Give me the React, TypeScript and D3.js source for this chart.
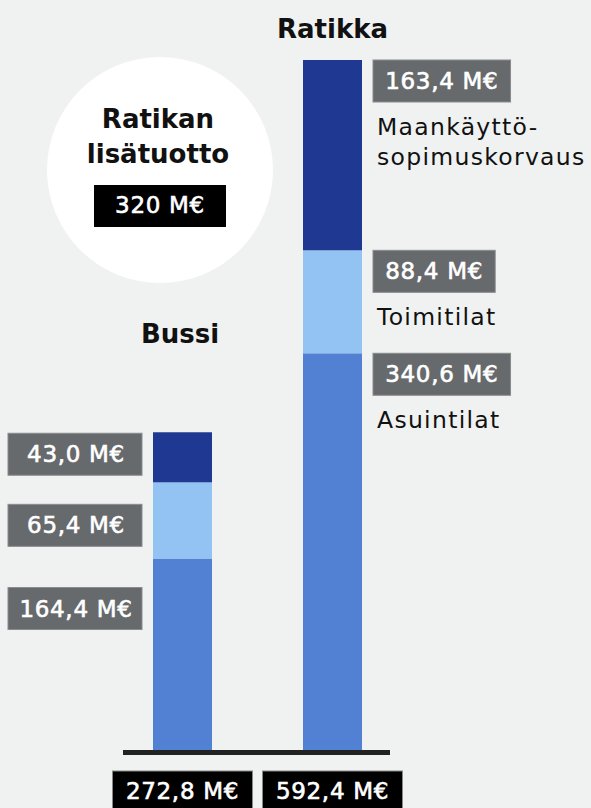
import React from "react";
import * as d3 from "d3";

const categories = ["Bussi", "Ratikka"];
const segmentKeys = ["Asuintilat", "Toimitilat", "Maankäyttösopimuskorvaus"];
const bussiValues = [164.4, 65.4, 43.0];
const ratikkaValues = [340.6, 88.4, 163.4];
const bussiLabels = ["164,4 M€", "65,4 M€", "43,0 M€"];
const ratikkaLabels = ["340,6 M€", "88,4 M€", "163,4 M€"];
const totalLabels = ["272,8 M€", "592,4 M€"];
const segmentNames = [["Asuintilat"], ["Toimitilat"], ["Maankäyttö-", "sopimuskorvaus"]];
const extraTitle = ["Ratikan", "lisätuotto"];
const extraValue = "320 M€";

const W = 591;
const H = 808;
const FONT = "'DejaVu Sans', Inter, sans-serif";
const COLORS = ["#5281d3", "#93c3f3", "#1f3891"];
const BG = "#f0f1f1";
const GRAY = "#676a6d";
const LABEL_SIZE = 23;
const LABEL_SPACING = 0.7;

let ctx: CanvasRenderingContext2D | null = null;
function measure(text: string, size: number, weight: number, spacing: number) {
  if (!ctx) ctx = document.createElement("canvas").getContext("2d");
  if (!ctx) return text.length * size * 0.6;
  ctx.font = `${weight} ${size}px 'DejaVu Sans', Inter, sans-serif`;
  return ctx.measureText(text).width + spacing * (text.length - 1);
}

export default function App() {
  const rows = categories.map((c, i) => {
    const vals = i === 0 ? bussiValues : ratikkaValues;
    const r: any = { cat: c };
    segmentKeys.forEach((k, j) => (r[k] = vals[j]));
    return r;
  });
  const series = d3.stack().keys(segmentKeys)(rows);
  const y = d3.scaleLinear().domain([0, 592.4]).range([750, 60]);
  const x = d3.scalePoint().domain(categories).range([182.5, 332.5]);
  const barW = 59;
  const titleY = [343, 38];
  const bussiOffsets = [29, 22, 1];
  const labelText = {
    fontFamily: FONT,
    fontWeight: 400,
    fontSize: LABEL_SIZE,
    letterSpacing: LABEL_SPACING,
    fill: "#fff",
    stroke: "#fff",
    strokeWidth: 0.6,
  } as any;

  return (
    <svg width={W} height={H} style={{ position: "absolute", left: 0, top: 0, background: BG }}>
      <rect x={0} y={0} width={W} height={H} fill={BG} />
      {/* circle */}
      <circle cx={160} cy={170} r={113} fill="#ffffff" />
      {extraTitle.map((t, i) => (
        <text key={t} x={158} y={128 + i * 35} textAnchor="middle" fontFamily={FONT} fontWeight={700} fontSize={26} fill="#111">
          {t}
        </text>
      ))}
      <rect x={94} y={185} width={132} height={42} fill="#000" />
      <text x={160} y={213} textAnchor="middle" {...labelText}>
        {extraValue}
      </text>

      {/* titles */}
      {categories.map((c, i) => (
        <text key={c} x={(x(c) as number) - (i === 0 ? 2.5 : 0)} y={titleY[i]} textAnchor="middle" fontFamily={FONT} fontWeight={700} fontSize={26} fill="#111">
          {c}
        </text>
      ))}

      {/* bars */}
      {series.map((s, si) =>
        s.map((d: any) => (
          <rect
            key={si + d.data.cat}
            x={(x(d.data.cat) as number) - barW / 2}
            y={y(d[1])}
            width={barW}
            height={y(d[0]) - y(d[1])}
            fill={COLORS[si]}
          />
        ))
      )}

      {/* baseline */}
      <rect x={123} y={750} width={267} height={5} fill="#222" />

      {/* Bussi labels */}
      {series.map((s, si) => {
        const d: any = s[0];
        const top = y(d[1]) + bussiOffsets[si];
        return (
          <g key={"b" + si}>
            <rect x={8} y={top} width={134} height={42} fill={GRAY} stroke="#8a8c8e" strokeWidth={1} />
            <text x={76} y={top + 29} textAnchor="middle" {...labelText}>
              {bussiLabels[si]}
            </text>
          </g>
        );
      })}

      {/* Ratikka labels */}
      {series.map((s, si) => {
        const d: any = s[1];
        const top = y(d[1]);
        const tw = measure(ratikkaLabels[si], LABEL_SIZE, 400, LABEL_SPACING);
        const bw = tw + 25;
        return (
          <g key={"r" + si}>
            <rect x={373} y={top} width={bw} height={42} fill={GRAY} stroke="#8a8c8e" strokeWidth={1} />
            <text x={373 + bw / 2} y={top + 29} textAnchor="middle" {...labelText}>
              {ratikkaLabels[si]}
            </text>
            {segmentNames[si].map((line, li) => (
              <text key={line} x={377} y={top + 42 + 33 + li * 30} fontFamily={FONT} fontWeight={400} fontSize={23.5} letterSpacing={1.3} fill="#111">
                {line}
              </text>
            ))}
          </g>
        );
      })}

      {/* totals */}
      {categories.map((c, i) => {
        const tw = measure(totalLabels[i], LABEL_SIZE, 400, LABEL_SPACING);
        const bw = Math.max(140, tw + 24);
        return (
          <g key={"t" + c}>
            <rect x={(x(c) as number) - bw / 2} y={771} width={bw} height={45} fill="#000" stroke="#888" strokeWidth={1} />
            <text x={x(c)} y={799} textAnchor="middle" {...labelText}>
              {totalLabels[i]}
            </text>
          </g>
        );
      })}
    </svg>
  );
}
